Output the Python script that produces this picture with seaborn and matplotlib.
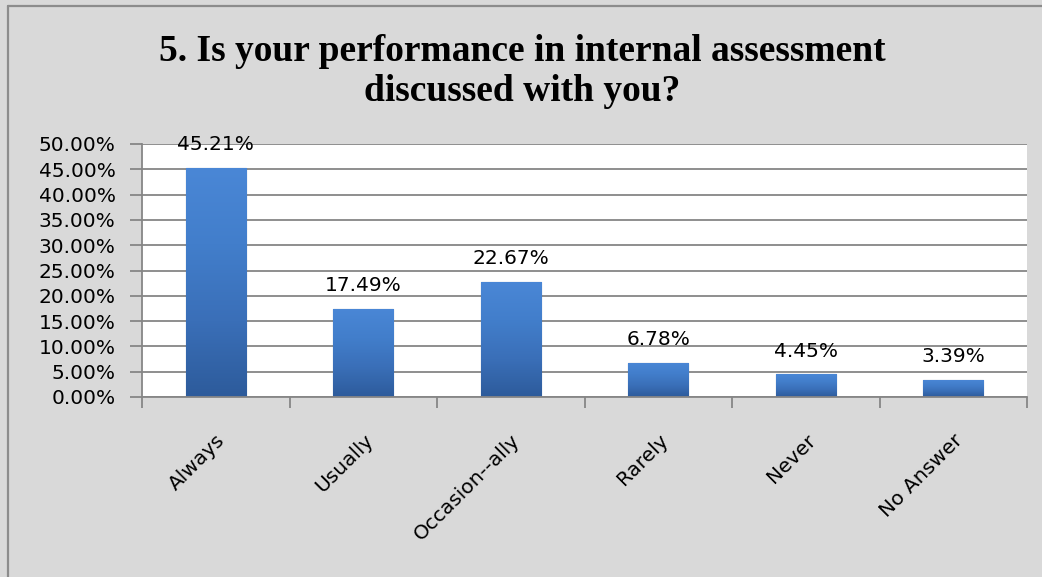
import numpy as np
import matplotlib
matplotlib.use("Agg")
import matplotlib.pyplot as plt
from matplotlib.colors import LinearSegmentedColormap
from matplotlib.ticker import FuncFormatter, MultipleLocator, FixedLocator
import seaborn as sns

# ---------------------------------------------------------------------------
# Data
# ---------------------------------------------------------------------------
categories = ["Always", "Usually", "Occasion--ally", "Rarely", "Never", "No Answer"]
percentages = [45.21, 17.49, 22.67, 6.78, 4.45, 3.39]
title_lines = ["5. Is your performance in internal assessment",
               "discussed with you?"]

BG = "#d9d9d9"
GRID = "#868686"

sns.set_theme(style="white")
plt.rcParams["font.family"] = ["DejaVu Sans"]
plt.rcParams["text.color"] = "black"

W, H = 1042, 577
fig = plt.figure(figsize=(W / 100, H / 100), dpi=100, facecolor=BG)
ax = fig.add_axes([142 / W, 1 - 397 / H, 885 / W, 253 / H])
ax.set_facecolor("white")

sns.barplot(x=categories, y=percentages, color="#3f77c6", width=0.41,
            edgecolor="#1f3f6e", linewidth=0.8, saturation=1, ax=ax)

# vertical gradient inside every bar (Excel-ish look)
cmap = LinearSegmentedColormap.from_list(
    "bar", ["#2d5b9b", "#3a6fb8", "#427ecb", "#4a87d6"])
grad = np.linspace(0, 1, 256).reshape(-1, 1)
for bar in ax.patches:
    x0, y0 = bar.get_x(), bar.get_y()
    w, h = bar.get_width(), bar.get_height()
    im = ax.imshow(grad, extent=[x0, x0 + w, y0, y0 + h], origin="lower",
                   cmap=cmap, aspect="auto", zorder=bar.get_zorder() + 0.1)
    im.set_clip_path(bar)

ax.set_xlim(-0.5, len(categories) - 0.5)
ax.set_ylim(0, 50)

# y axis
ax.yaxis.set_major_locator(MultipleLocator(5))
ax.yaxis.set_major_formatter(FuncFormatter(lambda v, _: f"{v:.2f}%"))
ax.grid(axis="y", color=GRID, linewidth=1.3)
ax.set_axisbelow(True)
ax.tick_params(axis="y", which="major", left=True, length=9, width=1.3,
               color=GRID, pad=10, labelsize=14.5, labelcolor="black")

# x axis: labels at centres, tick marks at category boundaries
ax.set_xticks(range(len(categories)))
ax.set_xticklabels(categories, rotation=45, ha="right", va="top",
                   rotation_mode="anchor", fontsize=14.5)
ax.tick_params(axis="x", which="major", length=0, pad=24, labelcolor="black")
ax.xaxis.set_minor_locator(FixedLocator(np.arange(-0.5, len(categories), 1)))
ax.tick_params(axis="x", which="minor", bottom=True, length=8, width=1.3,
               color=GRID)

for side in ["top", "right"]:
    ax.spines[side].set_visible(False)
for side in ["left", "bottom"]:
    ax.spines[side].set_color(GRID)
    ax.spines[side].set_linewidth(1.3)
ax.set_xlabel("")
ax.set_ylabel("")

# data labels
ax.bar_label(ax.containers[0], labels=[f"{v:.2f}%" for v in percentages],
             padding=10, fontsize=14.5, color="black")

# title
fig.text(522 / W, 1 - 34 / H, "\n".join(title_lines), ha="center", va="top",
         fontsize=27, fontweight="bold", family=["Liberation Serif"],
         color="black", linespacing=1.2)

# chart area border
fig.add_artist(plt.Line2D([7.5 / W, 7.5 / W], [0, 1 - 5.5 / H],
                          color="#8c8c8c", lw=1.6, transform=fig.transFigure))
fig.add_artist(plt.Line2D([7.5 / W, 1], [1 - 5.5 / H, 1 - 5.5 / H],
                          color="#8c8c8c", lw=1.6, transform=fig.transFigure))

fig.savefig("out.png", dpi=100, facecolor=fig.get_facecolor())
